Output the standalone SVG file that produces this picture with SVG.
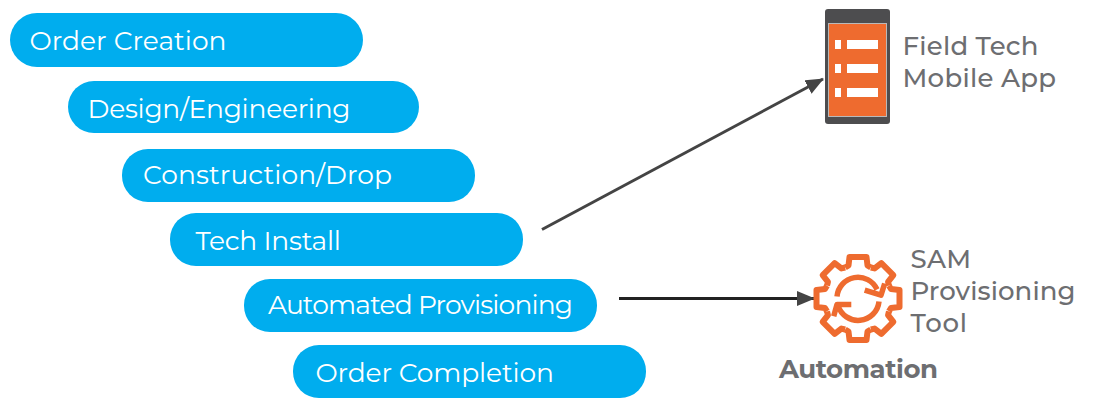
<svg xmlns="http://www.w3.org/2000/svg" width="1094" height="398" viewBox="0 0 1094 398">
<style>
.p{fill:#00adee}
.t{font-family:"Montserrat","Lato","Open Sans",sans-serif;font-size:26.5px;fill:#fff}
.g{font-family:"Montserrat","Lato","Open Sans",sans-serif;font-size:26px;fill:#6d6e71;font-weight:500}
.o{fill:#ee6b2f}
.w{fill:#fff}
.c{fill:none;stroke-width:3}
.s{fill:none;stroke:#ee6b2f;stroke-width:6;stroke-linejoin:round;stroke-linecap:butt}
</style>
<defs>
<marker id="a" markerUnits="userSpaceOnUse" markerWidth="18" markerHeight="16" refX="17" refY="8" orient="auto"><path d="M0 0.5L18 8L0 15.5z" fill="#444"/></marker>
<path id="tooth" class="s" d="M-12.8 -31L-9.5 -33L-8.5 -41.5H8.5L9.5 -33L12.8 -31"/>
</defs>
<g id="n1"><rect class="p" x="10" y="13" width="353" height="54" rx="27"/><text class="t" x="29.5" y="50" textLength="197">Order Creation</text></g>
<g id="n2"><rect class="p" x="68" y="81" width="351" height="52" rx="26"/><text class="t" x="87.5" y="118" textLength="263">Design/Engineering</text></g>
<g id="n3"><rect class="p" x="122" y="149" width="353" height="53" rx="26"/><text class="t" x="143" y="184" textLength="249">Construction/Drop</text></g>
<g id="n4"><rect class="p" x="170" y="213" width="353" height="53" rx="26"/><text class="t" x="195.500" y="250" textLength="145.500">Tech Install</text></g>
<g id="n5"><rect class="p" x="244" y="279" width="353" height="53" rx="26"/><text class="t" x="268" y="314" textLength="305">Automated Provisioning</text></g>
<g id="n6"><rect class="p" x="293" y="345" width="353" height="53" rx="26"/><text class="t" x="315.500" y="382" textLength="238.500">Order Completion</text></g>
<g id="connectors"><path d="M542 229.500L823 79" stroke="#444" class="c" marker-end="url(#a)"/><path d="M619 298.500H814" stroke="#222" class="c" marker-end="url(#a)"/></g>
<g id="app"><rect x="825" y="9" width="65" height="115" rx="3" fill="#4d4d4f"/><rect class="o" x="828.5" y="23.500" width="58" height="93" stroke="#b9b9b9"/>
<rect class="w" x="835" y="40" width="6" height="9"/><rect class="w" x="847" y="40" width="31" height="9"/>
<rect class="w" x="835" y="64" width="6" height="9"/><rect class="w" x="847" y="64" width="31" height="9"/>
<rect class="w" x="835" y="88" width="6" height="9"/><rect class="w" x="847" y="88" width="31" height="9"/>
<text class="g" x="902.500" y="55" textLength="136">Field Tech</text><text class="g" x="902.500" y="87" textLength="153.500">Mobile App</text></g>
<g id="sam"><g transform="translate(858 298.500)">
<use href="#tooth"/><use href="#tooth" transform="rotate(45)"/><use href="#tooth" transform="rotate(90)"/><use href="#tooth" transform="rotate(135)"/><use href="#tooth" transform="rotate(180)"/><use href="#tooth" transform="rotate(225)"/><use href="#tooth" transform="rotate(270)"/><use href="#tooth" transform="rotate(315)"/>
<path class="s" style="stroke-width:5.500" d="M-21 -2A21 21 0 0 1 19 -9M6.700 -8.300L23 -3.300L26.700 -15M21 3A21 21 0 0 1 -20 7M-6.700 6H-21L-24.300 17.700"/></g>
<text class="g" x="910.500" y="268" textLength="60.500">SAM</text><text class="g" x="910.500" y="300" textLength="165">Provisioning</text><text class="g" x="910.500" y="332" textLength="56.500">Tool</text><text class="g" x="779" y="378" textLength="159" style="font-weight:700">Automation</text></g>
</svg>
